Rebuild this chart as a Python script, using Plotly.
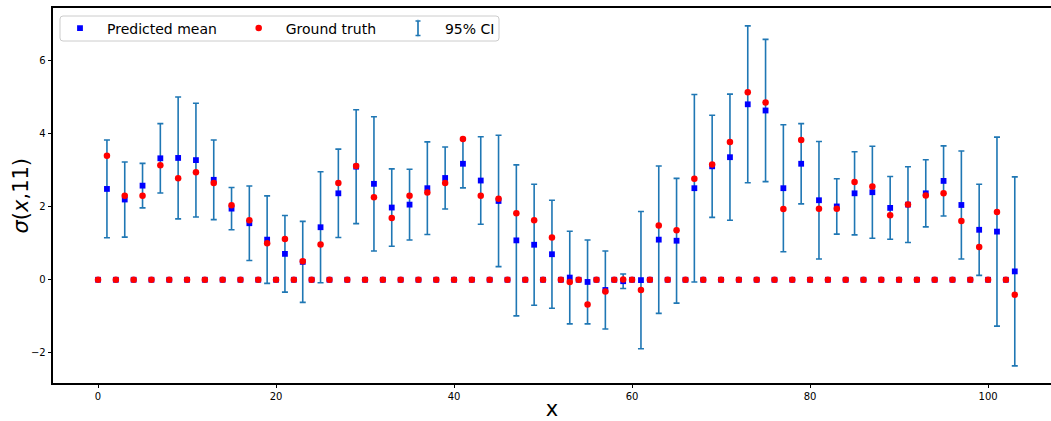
import plotly.graph_objects as go

# even x positions: zero targets
x_even = [0, 2, 4, 6, 8, 10, 12, 14, 16, 18, 20, 22, 24, 26, 28, 30, 32, 34, 36, 38,
          40, 42, 44, 46, 48, 50, 52, 54, 56, 58, 60, 62, 64, 66, 68, 70, 72, 74, 76, 78,
          80, 82, 84, 86, 88, 90, 92, 94, 96, 98, 100, 102]
mean_even = [0.0] * 52
truth_even = [0.0] * 52

# odd x positions
x_odd = [1, 3, 5, 7, 9, 11, 13, 15, 17, 19, 21, 23, 25, 27, 29, 31, 33, 35, 37, 39,
         41, 43, 45, 47, 49, 51, 53, 55, 57, 59, 61, 63, 65, 67, 69, 71, 73, 75, 77, 79,
         81, 83, 85, 87, 89, 91, 93, 95, 97, 99, 101, 103]
mean_odd = [2.49, 2.20, 2.58, 3.33, 3.34, 3.28, 2.74, 1.95, 1.55, 1.10,
            0.71, 0.49, 1.44, 2.37, 3.10, 2.63, 1.98, 2.06, 2.51, 2.79,
            3.18, 2.72, 2.16, 1.08, 0.96, 0.70, 0.06, -0.06, -0.28, -0.04,
            -0.01, 1.10, 1.07, 2.51, 3.11, 3.36, 4.81, 4.64, 2.51, 3.18,
            2.18, 2.01, 2.37, 2.40, 1.97, 2.06, 2.37, 2.71, 2.05, 1.37,
            1.32, 0.23]
truth_odd = [3.40, 2.30, 2.30, 3.14, 2.78, 2.95, 2.65, 2.04, 1.63, 1.00,
             1.12, 0.51, 0.97, 2.65, 3.12, 2.26, 1.69, 2.30, 2.39, 2.65,
             3.86, 2.30, 2.22, 1.82, 1.63, 1.16, -0.06, -0.68, -0.32, 0.01,
             -0.28, 1.49, 1.36, 2.77, 3.16, 3.78, 5.14, 4.86, 1.94, 3.83,
             1.95, 1.95, 2.68, 2.56, 1.77, 2.06, 2.31, 2.37, 1.61, 0.90,
             1.86, -0.41]
ci_odd = [1.34, 1.03, 0.61, 0.95, 1.67, 1.56, 1.09, 0.58, 1.02, 1.20,
          1.05, 1.11, 1.52, 1.21, 1.56, 1.84, 1.06, 0.97, 1.27, 0.85,
          0.66, 1.20, 1.80, 2.07, 1.66, 1.48, 1.27, 1.15, 1.07, 0.20,
          1.88, 2.02, 1.71, 2.57, 1.40, 1.73, 2.15, 1.95, 1.74, 1.10,
          1.61, 0.76, 1.14, 1.26, 0.86, 1.04, 0.92, 0.96, 1.48, 1.25,
          2.59, 2.59]

x_ticks = [0, 20, 40, 60, 80, 100]
y_ticks = [-2, 0, 2, 4, 6]
y_ticktext = ["\u22122", "0", "2", "4", "6"]

x_all = x_even + x_odd
mean_all = mean_even + mean_odd
truth_all = truth_even + truth_odd

ci_color = "#1f77b4"
font_family = "DejaVu Sans"

# figure geometry (pixels) used to place decorations in paper coordinates
W, H = 1051, 421
ML, MR, MT, MB = 53, 0, 8, 38
PW, PH = W - ML - MR, H - MT - MB


def px(xp):
    return (xp - ML) / PW


def py(yp):
    return (H - MB - yp) / PH


fig = go.Figure()

# error bars (95% CI)
fig.add_trace(go.Scatter(
    x=x_odd, y=mean_odd, mode="markers",
    marker=dict(size=1, opacity=0),
    error_y=dict(type="data", array=ci_odd, symmetric=True,
                 color=ci_color, thickness=1.6, width=3),
    showlegend=False, hoverinfo="skip",
))

fig.add_trace(go.Scatter(
    x=x_all, y=mean_all, mode="markers",
    name="\u2002Predicted mean\u2003\u2009",
    marker=dict(symbol="square", size=5.8, color="blue", line=dict(width=0)),
))
fig.add_trace(go.Scatter(
    x=x_all, y=truth_all, mode="markers",
    name="\u2002Ground truth\u2003\u2009",
    marker=dict(symbol="circle", size=6.5, color="red", line=dict(width=0)),
))
# legend entry for CI (icon drawn as a shape below)
fig.add_trace(go.Scatter(
    x=[None], y=[None], mode="markers", name="\u200295% CI",
    marker=dict(symbol="line-ns-open", size=13, color=ci_color, opacity=0,
                line=dict(width=1.6, color=ci_color)),
))

# legend frame (rounded rectangle) in paper coords
lx0, lx1, ly0, ly1 = px(60), px(499), py(41), py(16)
rx, ry = 3 / PW, 3 / PH
frame_path = (
    f"M {lx0 + rx},{ly1} L {lx1 - rx},{ly1} Q {lx1},{ly1} {lx1},{ly1 - ry} "
    f"L {lx1},{ly0 + ry} Q {lx1},{ly0} {lx1 - rx},{ly0} "
    f"L {lx0 + rx},{ly0} Q {lx0},{ly0} {lx0},{ly0 + ry} "
    f"L {lx0},{ly1 - ry} Q {lx0},{ly1} {lx0 + rx},{ly1} Z"
)
# error-bar legend icon (I-beam)
ix0, ixc, ix1 = px(415.5), px(418), px(420.5)
iyt, iyb = py(21), py(35.5)
icon_path = (f"M {ix0},{iyt} L {ix1},{iyt} M {ixc},{iyt} L {ixc},{iyb} "
             f"M {ix0},{iyb} L {ix1},{iyb}")

fig.update_layout(
    width=W, height=H,
    margin=dict(l=ML, r=MR, t=MT, b=MB),
    paper_bgcolor="white", plot_bgcolor="white",
    font=dict(family=font_family, color="black", size=10),
    showlegend=True,
    legend=dict(
        orientation="h", x=px(60), y=py(28.5), xanchor="left", yanchor="middle",
        bgcolor="rgba(0,0,0,0)", borderwidth=0,
        font=dict(size=14, family=font_family),
    ),
    shapes=[
        dict(type="path", xref="paper", yref="paper", path=frame_path,
             fillcolor="rgba(255,255,255,0.8)", line=dict(color="#cccccc", width=1),
             layer="above"),
        dict(type="path", xref="paper", yref="paper", path=icon_path,
             line=dict(color=ci_color, width=1.6), layer="above"),
    ],
    annotations=[
        dict(text="<i>σ</i>(<i>x</i>,11)", textangle=-90,
             x=px(20), y=0.5, xref="paper", yref="paper",
             xanchor="center", yanchor="middle", showarrow=False,
             font=dict(size=21, family=font_family)),
    ],
    xaxis=dict(
        range=[-5.06, 107.07], tickvals=x_ticks,
        showgrid=False, zeroline=False, automargin=False,
        showline=True, linecolor="black", linewidth=1.6, mirror=True,
        ticks="outside", ticklen=3.5, tickwidth=1, tickcolor="black",
        tickfont=dict(size=10),
        title=dict(text="x", font=dict(size=21), standoff=8),
    ),
    yaxis=dict(
        range=[-2.83, 7.45], tickvals=y_ticks, ticktext=y_ticktext,
        showgrid=False, zeroline=False, automargin=False,
        showline=True, linecolor="black", linewidth=1.6, mirror=False,
        ticks="outside", ticklen=3.5, tickwidth=1, tickcolor="black",
        tickfont=dict(size=10),
    ),
)

fig.write_html("out.html")
